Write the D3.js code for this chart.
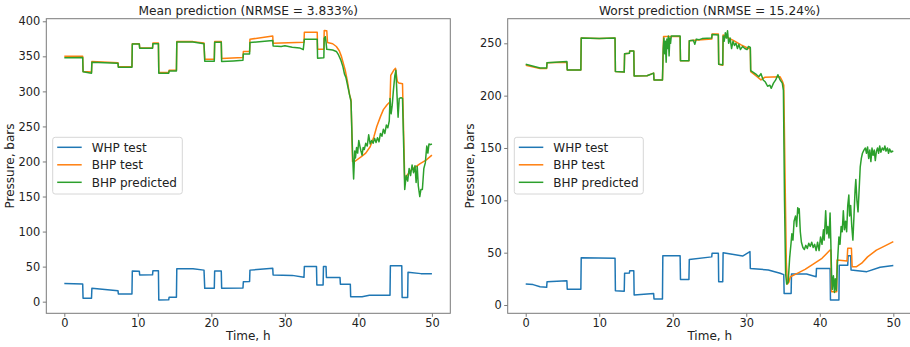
<!DOCTYPE html>
<html>
<head>
<meta charset="utf-8">
<script src="https://cdn.jsdelivr.net/npm/d3@7"></script>
<style>
  html, body { margin: 0; padding: 0; background: #fff; }
  svg { display: block; font-family: "DejaVu Sans", sans-serif; }
</style>
</head>
<body>
<svg id="chart" width="910" height="347"></svg>
<script>
// ---- data: [time (h), pressure (bars)] ----
const xTicks = [0, 10, 20, 30, 40, 50];
const meanYTicks = [0, 50, 100, 150, 200, 250, 300, 350, 400];
const worstYTicks = [0, 50, 100, 150, 200, 250];
const seriesNames = ["WHP test", "BHP test", "BHP predicted"];
const titles = ["Mean prediction (NRMSE = 3.833%)", "Worst prediction (NRMSE = 15.24%)"];

const meanWhp = [[0,26],[2.5,25.2],[2.55,4.8],[3.7,4.8],[3.75,19],[7.3,15.7],[7.35,11],[9.2,11],[9.25,43.8],[10.2,43.5],[10.25,38],[12.0,38.3],[12.05,44],[12.8,44],[12.85,2.4],[14.2,2.6],[14.25,6.2],[15.25,6.2],[15.3,47],[17.5,46.8],[19.0,45],[19.1,19],[20.4,19],[20.45,43.8],[21.35,43.8],[21.4,19],[24.3,19.5],[24.35,28.5],[25.2,28.7],[25.25,45],[28.35,47.5],[28.4,38],[31,37.5],[32.6,34.7],[32.65,50],[34.3,50],[34.35,23.8],[35.2,23.8],[35.25,50],[35.6,50],[35.65,34.5],[37.5,34.5],[37.55,25],[38.9,25],[38.95,7],[40.5,7],[41.5,9],[44.3,9.2],[44.35,51.4],[45.9,51.4],[45.95,5.8],[46.7,5.8],[46.75,42],[48.5,40],[50,40]];

const meanBhp = [[0,350],[2.5,350],[2.55,328.5],[3.7,327.5],[3.75,342.5],[7.3,341],[7.35,335],[9.2,335],[9.25,368],[10.2,368],[10.25,362],[12.0,362],[12.05,369],[12.8,369],[12.85,326.8],[14.2,327],[14.25,330],[15.25,330],[15.3,371],[17.5,371],[19.0,369],[19.1,346],[20.4,346],[20.45,371],[21.35,371],[21.4,347],[24.3,348.5],[24.35,357],[25.2,357],[25.25,374.4],[28.35,379],[28.4,368.7],[32.6,370],[32.65,384.4],[34.4,384.4],[34.45,360],[35.3,360],[35.35,386.7],[35.7,386.5],[35.8,369.6],[36.5,368],[37.0,364],[37.4,358],[37.7,349.6],[38.2,330.6],[38.5,315],[38.8,295],[39.0,288],[39.2,200],[39.5,200],[40.4,207],[41.0,212],[41.6,221],[42.1,235],[42.5,250],[43.0,264],[43.4,274],[43.9,281],[44.3,285],[44.4,323],[44.8,330],[45.05,333],[45.3,314],[45.5,312],[46.0,311],[46.3,174],[46.6,180],[47.2,188],[48.4,197],[49.2,202],[50,209]];

const meanPred = [[0,348],[2.5,348.5],[2.55,328],[3.7,326],[3.75,341.5],[7.3,340],[7.35,334.5],[9.2,334.5],[9.25,367.5],[10.2,367.5],[10.25,361.5],[12.0,361.5],[12.05,368],[12.8,368],[12.85,326],[14.2,326],[14.25,329],[15.25,329],[15.3,370.5],[17.5,370.5],[19.0,368],[19.1,343],[20.4,343],[20.45,370],[21.35,370],[21.4,342.5],[23,343.5],[24.3,344.5],[24.35,353.5],[25.2,353.5],[25.25,369.6],[28.35,372.5],[28.4,364.9],[29.5,364],[30,365],[31,363],[32,362],[32.5,359.5],[32.65,374.4],[34.4,374.4],[34.45,347.3],[35.3,348],[35.35,376],[35.5,378],[35.6,370],[35.7,360],[36.5,359],[37.0,357],[37.3,352],[37.6,345],[37.9,335],[38.1,325],[38.3,320],[38.5,310],[38.7,300],[38.9,290],[39.0,285],[39.15,230],[39.25,200],[39.35,175],[39.5,215],[39.6,205],[39.75,220],[39.9,212],[40.05,230],[40.2,222],[40.35,215],[40.5,209],[40.65,220],[40.8,217],[41.0,226],[41.2,222],[41.4,238],[41.6,225],[41.8,230],[42.0,226],[42.2,233],[42.4,227],[42.6,234],[42.8,228],[43.0,240],[43.2,236],[43.4,246],[43.6,240],[43.8,252],[44.0,248],[44.2,258],[44.3,290],[44.45,268],[44.6,280],[44.75,300],[44.95,322],[45.1,330],[45.25,295],[45.4,263],[45.55,290],[45.8,291],[46.0,290],[46.3,160],[46.5,180],[46.7,172],[46.9,190],[47.1,180],[47.3,195],[47.5,184],[47.7,194],[47.85,170],[48.0,193],[48.15,165],[48.35,150],[48.5,160],[48.7,160],[48.9,190],[49.1,198],[49.3,222],[49.45,212],[49.6,225],[49.8,224],[50,225]];

const worstWhp = [[0,20],[1.0,19.5],[1.95,17.5],[2.85,16.9],[2.9,22.3],[5.6,23.2],[5.65,15],[7.5,15],[7.55,45.2],[12.15,44.6],[12.2,13.7],[13.4,13.2],[13.45,30.3],[14.1,30.5],[14.15,32.8],[14.7,32.8],[14.75,9.6],[17.4,11],[17.45,5.7],[18.6,5.7],[18.65,47],[21.0,47],[21.05,24.5],[22.2,24.5],[22.25,43.6],[25.3,46],[25.35,49.4],[26.2,49.4],[26.25,22.3],[26.8,22.3],[26.85,50],[29.5,46.8],[30.5,51],[30.55,35],[33,33.5],[34.6,30.3],[35.1,29],[35.15,11],[36.1,11],[36.15,29.6],[38.2,29.6],[39.5,27],[39.55,35],[41.4,35],[41.45,4.8],[42.6,4.8],[42.65,38],[43.8,38],[43.85,47],[44.2,47],[44.25,33.4],[46.4,31.9],[48.2,36.1],[50,37.7]];

const worstBhp = [[0,229],[1.95,226],[2.85,226],[2.9,231.5],[5.6,232],[5.65,224.5],[7.5,224.5],[7.55,255],[10,254.5],[12.15,255],[12.2,223],[13.4,222.5],[13.45,240],[14.1,240.4],[14.15,242.7],[14.7,242.7],[14.75,218.8],[16.5,219],[17.4,221.5],[17.45,215],[18.6,215],[18.75,256.4],[20.2,256.4],[21.0,256.5],[21.05,233.4],[22.2,233.4],[22.25,252.5],[23,253],[25.3,254],[25.35,259],[26.2,259],[26.25,230],[26.8,229],[26.85,258],[27.3,256],[28.3,252.5],[29.3,248.5],[30.3,245],[30.55,245],[30.6,223],[31.3,219],[32.0,215],[32.5,217.5],[34.6,218],[34.9,214],[35.1,210],[35.3,110],[35.45,40],[35.6,20],[35.8,22],[36.0,27],[37,30.5],[38,34],[39,38.5],[40.3,44.6],[41.4,52.5],[41.5,52.5],[41.6,12.7],[42.3,12.7],[42.35,43],[43.7,42],[43.8,54.2],[44.3,54.2],[44.4,36.6],[45.0,36.6],[45.7,40],[46.5,46],[47.7,52.5],[49,57],[50,60.5]];

const worstPred = [[0,230],[1.95,226.5],[2.85,226.5],[2.9,231.5],[5.6,232.5],[5.65,224.5],[7.5,224.5],[7.55,255],[10,254.5],[12.15,255],[12.2,223],[13.4,222.5],[13.45,240],[14.1,240.4],[14.15,242.7],[14.7,242.7],[14.75,218.8],[16.5,219],[17.4,221.5],[17.45,215],[18.6,215],[18.7,245],[18.8,255],[18.9,240],[19.0,252],[19.1,232],[19.2,254],[19.3,245],[19.4,257],[19.5,238],[19.6,255],[19.7,250],[19.8,257],[20.1,257],[21.0,257],[21.05,233.4],[22.2,233.4],[22.25,252.5],[22.8,253],[23.0,249],[23.2,254],[23.6,253.5],[24,254.5],[25.3,255],[25.35,258.5],[26.2,258],[26.25,230],[26.8,229.5],[26.85,257],[27.0,252],[27.15,260],[27.3,255],[27.45,262],[27.6,250],[27.8,255],[28.0,245],[28.2,252],[28.4,248],[28.6,250],[28.8,245],[29.0,249],[29.2,244],[29.5,247],[29.8,245],[30.1,244],[30.3,247],[30.55,246],[30.6,224],[31.0,222],[31.4,220],[31.7,218],[32.0,221],[32.3,215],[32.6,213],[32.9,209],[33.2,210],[33.4,207],[33.7,212],[34.0,215],[34.3,220],[34.6,215],[34.9,212],[35.05,205],[35.2,100],[35.35,30],[35.5,20],[35.7,22],[35.9,45],[36.1,60],[36.2,68],[36.35,62],[36.5,80],[36.7,85],[36.85,75],[37.0,93],[37.1,88],[37.2,92],[37.35,70],[37.5,60],[37.7,55],[37.9,53],[38.1,57],[38.3,54],[38.5,59],[38.7,56],[38.9,60],[39.1,55],[39.3,58],[39.5,52],[39.7,60],[39.9,52],[40.1,65],[40.3,58],[40.5,72],[40.6,62],[40.8,90],[40.95,68],[41.1,75],[41.25,64],[41.4,88],[41.5,60],[41.6,30],[41.7,15],[41.85,28],[42.0,12],[42.1,25],[42.25,14],[42.4,40],[42.6,65],[42.75,58],[42.9,75],[43.05,70],[43.2,90],[43.35,72],[43.5,80],[43.65,70],[43.8,95],[43.95,105],[44.05,85],[44.2,95],[44.35,75],[44.5,62],[44.65,85],[44.8,110],[44.9,120],[45.05,100],[45.2,89],[45.35,110],[45.5,132],[45.65,140],[45.8,145],[46.0,148],[46.2,150],[46.35,145],[46.5,151],[46.65,140],[46.8,148],[46.95,137],[47.1,150],[47.25,143],[47.4,148],[47.55,138],[47.7,147],[47.85,150],[48.0,145],[48.15,152],[48.3,146],[48.5,150],[48.7,148],[48.85,152],[49.0,147],[49.2,150],[49.35,145],[49.5,149],[49.7,146],[49.85,147],[50,146.5]];

// ---- styling ----
const colors = ["#1f77b4", "#ff7f0e", "#2ca02c"];
const spineColor = "#7a7a7a";
const textColor = "#222";

const panels = [
  { title: titles[0], left: 46.3, right: 450.3, xDomain: [-2.45, 52.5], yDomain: [-16.6, 403.7],
    yTicks: meanYTicks, series: [meanWhp, meanBhp, meanPred], yLabelX: 13.5,
    legend: { x: 52.7, y: 137.3, w: 129.6, h: 56.7 } },
  { title: titles[1], left: 507.7, right: 911.7, xDomain: [-2.45, 52.5], yDomain: [-7.9, 273.5],
    yTicks: worstYTicks, series: [worstWhp, worstBhp, worstPred], yLabelX: 474,
    legend: { x: 514.3, y: 137.3, w: 129, h: 56.7 } }
];
const plotTop = 18.7, plotBottom = 313.3;

const svg = d3.select("#chart");

panels.forEach((p, i) => {
  const x = d3.scaleLinear().domain(p.xDomain).range([p.left, p.right]);
  const y = d3.scaleLinear().domain(p.yDomain).range([plotBottom, plotTop]);
  const g = svg.append("g");

  const clipId = "clip" + i;
  svg.append("clipPath").attr("id", clipId)
    .append("rect").attr("x", p.left).attr("y", plotTop)
    .attr("width", p.right - p.left).attr("height", plotBottom - plotTop);

  const line = d3.line().x(d => x(d[0])).y(d => y(d[1]));
  const plot = g.append("g").attr("clip-path", `url(#${clipId})`);
  p.series.forEach((s, k) => {
    plot.append("path").datum(s)
      .attr("d", line)
      .attr("fill", "none")
      .attr("stroke", colors[k])
      .attr("stroke-width", 1.5)
      .attr("stroke-linejoin", "round");
  });

  // frame
  g.append("rect").attr("x", p.left).attr("y", plotTop)
    .attr("width", p.right - p.left).attr("height", plotBottom - plotTop)
    .attr("fill", "none").attr("stroke", spineColor).attr("stroke-width", 1);

  const xAxis = g.append("g").attr("transform", `translate(0,${plotBottom})`)
    .call(d3.axisBottom(x).tickValues(xTicks).tickSize(3.5).tickPadding(2.5).tickFormat(d3.format("d")));
  const yAxis = g.append("g").attr("transform", `translate(${p.left},0)`)
    .call(d3.axisLeft(y).tickValues(p.yTicks).tickSize(3.5).tickPadding(2.5).tickFormat(d3.format("d")));
  [xAxis, yAxis].forEach(a => {
    a.select(".domain").remove();
    a.selectAll(".tick line").attr("stroke", spineColor);
    a.selectAll(".tick text").attr("fill", textColor)
      .style("font-size", "11.4px").style("font-family", "DejaVu Sans");
  });

  g.append("text").attr("x", (p.left + p.right) / 2).attr("y", 15)
    .attr("text-anchor", "middle").attr("fill", textColor)
    .style("font-size", "12.2px").text(p.title);

  g.append("text").attr("x", (p.left + p.right) / 2).attr("y", 340)
    .attr("text-anchor", "middle").attr("fill", textColor)
    .style("font-size", "12px").text("Time, h");

  g.append("text")
    .attr("transform", `translate(${p.yLabelX},${(plotTop + plotBottom) / 2}) rotate(-90)`)
    .attr("text-anchor", "middle").attr("fill", textColor)
    .style("font-size", "12px").text("Pressure, bars");

  // legend
  const L = p.legend;
  const lg = g.append("g");
  lg.append("rect").attr("x", L.x).attr("y", L.y).attr("width", L.w).attr("height", L.h)
    .attr("rx", 2.5).attr("fill", "#fff").attr("fill-opacity", 0.8)
    .attr("stroke", "#d6d6d6").attr("stroke-width", 1);
  seriesNames.forEach((name, k) => {
    const ry = L.y + 10 + k * 17.5;
    lg.append("line").attr("x1", L.x + 4.5).attr("x2", L.x + 29)
      .attr("y1", ry).attr("y2", ry)
      .attr("stroke", colors[k]).attr("stroke-width", 1.5);
    lg.append("text").attr("x", L.x + 39).attr("y", ry + 4.3)
      .attr("fill", textColor).style("font-size", "12px").text(name);
  });
});
</script>
</body>
</html>
